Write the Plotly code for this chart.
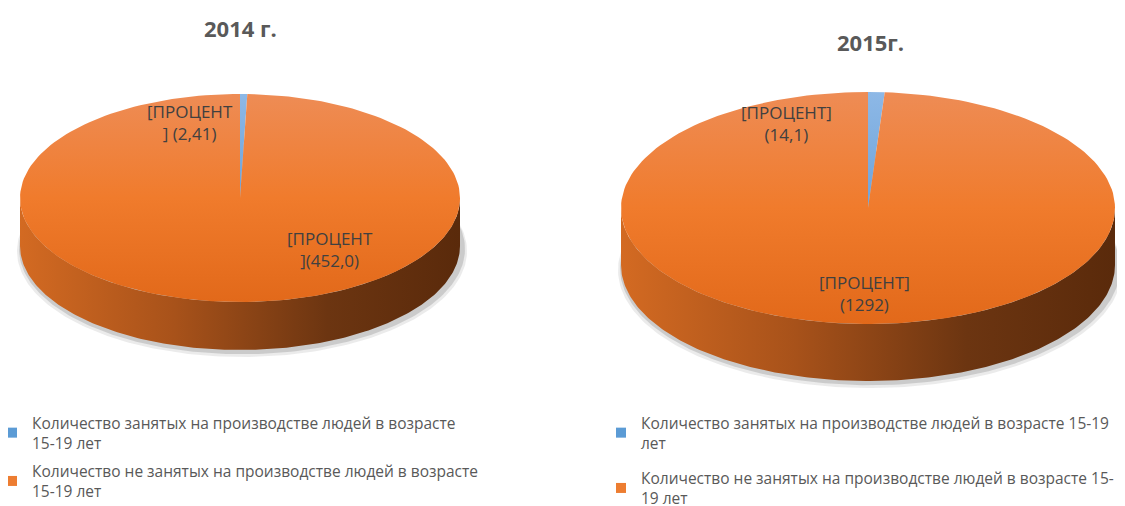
import numpy as np
import plotly.graph_objects as go

# ---- data ----
years = ["2014 г.", "2015г."]
categories = [
    "Количество занятых на производстве людей в возрасте 15-19 лет",
    "Количество не занятых на производстве людей в возрасте 15-19 лет",
]
values_2014 = [2.41, 452.0]
values_2015 = [14.1, 1292]
value_text_2014 = ["2,41", "452,0"]
value_text_2015 = ["14,1", "1292"]
legend_2014 = [
    "Количество занятых на производстве людей в возрасте<br>15-19 лет",
    "Количество не занятых на производстве людей в возрасте<br>15-19 лет",
]
legend_2015 = [
    "Количество занятых на производстве людей в возрасте 15-19<br>лет",
    "Количество не занятых на производстве людей в возрасте 15-<br>19 лет",
]

W, H = 1125, 506
OFF = 8  # page body margin
FONT = "Open Sans"
slice_colors = ["#5b9bd5", "#ed7d31"]
top_scales = [
    [[0, "#8db8e6"], [1, "#4f8fcf"]],
    [[0, "#ee8c55"], [0.5, "#f07b2c"], [1, "#e2691a"]],
]
side_scales = [
    [[0, "#4a7fb5"], [1, "#2a4f75"]],
    [[0, "#d36a22"], [0.35, "#a8521a"], [0.7, "#6c3511"], [1, "#5a2a0b"]],
]

pies = [
    dict(values=values_2014, cx=240, cy=198, rx=220, ry=104, depth=48,
         legend="legend", names=legend_2014, key="a"),
    dict(values=values_2015, cx=868, cy=208, rx=247, ry=116, depth=57,
         legend="legend2", names=legend_2015, key="b"),
]


def arc(cx, cy, rx, ry, a0, a1, n=200):
    t = np.radians(np.linspace(a0, a1, max(n, 3)))
    return cx + rx * np.sin(t), cy - ry * np.cos(t)


fig = go.Figure()

for p in pies:
    cx, cy, rx, ry, d = p["cx"], p["cy"], p["rx"], p["ry"], p["depth"]
    vals = np.array(p["values"], dtype=float)
    ang = np.concatenate([[0], np.cumsum(vals) / vals.sum() * 360])

    # soft shadow
    for k, op in [(5, 0.10), (3, 0.18)]:
        sx, sy = arc(cx + 2, cy + d + k, rx + k, ry + k * 0.4, 0, 360, 300)
        fig.add_trace(go.Scatter(x=sx, y=sy, fill="toself", mode="lines",
                                 line=dict(width=0), fillcolor=f"rgba(60,60,60,{op})",
                                 hoverinfo="skip", showlegend=False))

    # side walls (front half: 90..270 deg)
    for i in range(len(vals)):
        s0, s1 = max(ang[i], 90), min(ang[i + 1], 270)
        if s1 <= s0:
            continue
        tx, ty = arc(cx, cy, rx, ry, s0, s1)
        bx, by = arc(cx, cy + d, rx, ry, s1, s0)
        fig.add_trace(go.Scatter(
            x=np.concatenate([tx, bx]), y=np.concatenate([ty, by]),
            fill="toself", mode="lines", line=dict(width=0),
            fillgradient=dict(type="horizontal", colorscale=side_scales[i],
                              start=cx - rx, stop=cx + rx),
            hoverinfo="skip", showlegend=False))

    # top surface slices
    for i in range(len(vals)):
        ax, ay = arc(cx, cy, rx, ry, ang[i], ang[i + 1])
        fig.add_trace(go.Scatter(
            x=np.concatenate([[cx], ax, [cx]]), y=np.concatenate([[cy], ay, [cy]]),
            fill="toself", mode="lines", line=dict(width=0),
            fillgradient=dict(type="vertical", colorscale=top_scales[i],
                              start=cy - ry, stop=cy + ry),
            hoverinfo="skip", showlegend=False))

    # legend entries
    for i, nm in enumerate(p["names"]):
        fig.add_trace(go.Scatter(x=[None], y=[None], mode="markers", name=nm,
                                 legendgroup=p["key"] + str(i),
                                 marker=dict(symbol="square", size=10, color=slice_colors[i]),
                                 legend=p["legend"], showlegend=True))

# titles
fig.add_annotation(x=240, y=28, text="<b>" + years[0] + "</b>", showarrow=False,
                   font=dict(family=FONT, size=22, color="#595959"))
fig.add_annotation(x=870, y=42, text="<b>" + years[1] + "</b>", showarrow=False,
                   font=dict(family=FONT, size=22, color="#595959"))

# data labels
lab_font = dict(family=FONT, size=17, color="#404040")
fig.add_annotation(x=190, y=122, text="[ПРОЦЕНТ<br>] (" + value_text_2014[0] + ")",
                   showarrow=False, font=lab_font)
fig.add_annotation(x=330, y=249, text="[ПРОЦЕНТ<br>](" + value_text_2014[1] + ")",
                   showarrow=False, font=lab_font)
fig.add_annotation(x=786, y=123, text="[ПРОЦЕНТ]<br>(" + value_text_2015[0] + ")",
                   showarrow=False, font=lab_font)
fig.add_annotation(x=864, y=293, text="[ПРОЦЕНТ]<br>(" + value_text_2015[1] + ")",
                   showarrow=False, font=lab_font)

leg_common = dict(font=dict(family=FONT, size=15.5, color="#595959"),
                  bgcolor="rgba(0,0,0,0)", xanchor="left", yanchor="top",
                  itemwidth=30, traceorder="grouped")
fig.update_layout(
    width=W, height=H, margin=dict(l=0, r=0, t=0, b=0, autoexpand=False),
    paper_bgcolor="white", plot_bgcolor="white",
    xaxis=dict(range=[OFF, W + OFF], visible=False, fixedrange=True),
    yaxis=dict(range=[H + OFF, OFF], visible=False, fixedrange=True),
    legend=dict(x=(-8 - OFF) / W, y=1 - (406 - OFF) / H, tracegroupgap=5, **leg_common),
    legend2=dict(x=(601 - OFF) / W, y=1 - (406 - OFF) / H, tracegroupgap=12, **leg_common),
    showlegend=True,
)

fig.write_html("out.html")
